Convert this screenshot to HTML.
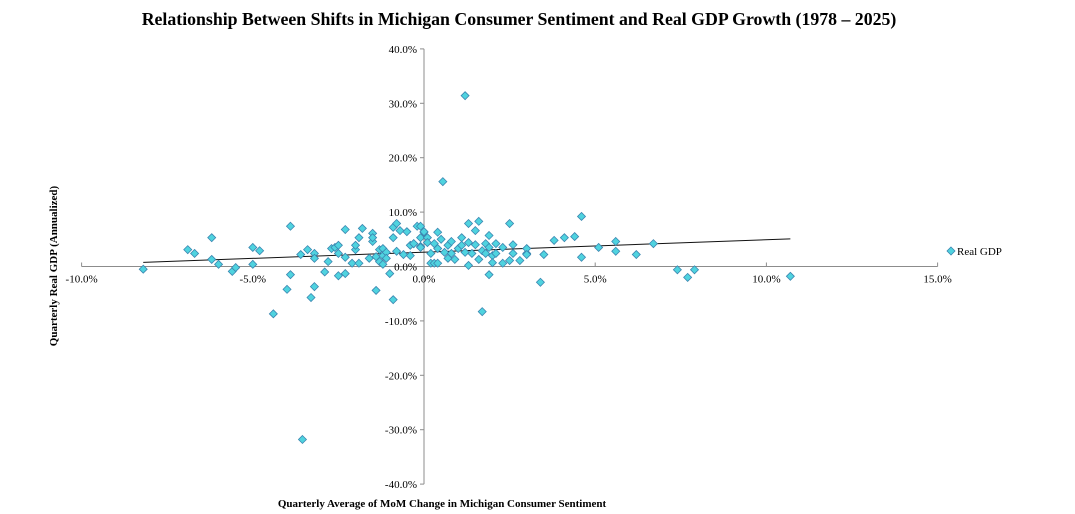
<!DOCTYPE html>
<html><head><meta charset="utf-8">
<style>
html,body{margin:0;padding:0;background:#fff;}
svg{display:block;font-family:"Liberation Serif",serif;}
</style></head>
<body>
<svg id="chart" width="1075" height="514" viewBox="0 0 1075 514">
<text x="519" y="25" text-anchor="middle" font-size="17.8" font-weight="bold">Relationship Between Shifts in Michigan Consumer Sentiment and Real GDP Growth (1978 – 2025)</text>
<text x="0" y="0" transform="translate(57,266) rotate(-90)" text-anchor="middle" font-size="11" font-weight="bold">Quarterly Real GDP (Annualized)</text>
<text x="442" y="507" text-anchor="middle" font-size="11" font-weight="bold">Quarterly  Average of MoM Change in Michigan Consumer Sentiment</text>
<g id="axes"></g>
<g id="trend"></g>
<g id="points"></g>
<g>
<path d="M951 247 L955 251 L951 255 L947 251 Z" fill="#4fd3df" stroke="#3b86b0" stroke-width="0.8"/>
<text x="957" y="255" font-size="11">Real GDP</text>
</g>
</svg>
<script>
const xTicks = [-10, -5, 0, 5, 10, 15];
const yTicks = [40, 30, 20, 10, 0, -10, -20, -30, -40];
const sentimentChange = [-8.2,-6.9,-6.7,-6.2,-6.2,-6.0,-5.6,-5.5,-5.0,-5.0,-4.8,-4.4,-3.9,-3.9,-4.0,-3.6,-3.4,-3.2,-3.2,-3.3,-3.2,-2.9,-2.8,-2.7,-2.6,-2.5,-2.5,-2.5,-2.3,-2.3,-2.3,-2.1,-2.0,-2.0,-1.9,-1.8,-1.9,-1.6,-1.5,-1.5,-1.5,-1.4,-1.4,-1.3,-1.2,-1.2,-1.3,-1.2,-1.1,-1.1,-1.0,-0.9,-0.9,-0.8,-0.9,-0.8,-0.7,-0.6,-0.5,-0.4,-0.4,-0.3,-0.2,-0.1,0.0,-0.1,
-0.1,0.0,0.1,-0.3,-0.1,0.1,0.4,0.2,0.3,0.4,0.2,0.3,0.4,0.5,0.6,0.7,0.7,0.8,0.8,0.9,1.0,1.1,1.1,1.2,1.3,1.3,1.3,1.4,1.5,1.5,1.6,1.6,1.7,1.8,1.8,1.9,1.9,1.9,2.0,2.0,2.1,2.1,1.7,2.3,2.3,2.5,2.5,2.6,2.6,2.8,3.0,3.0,3.0,3.4,3.5,3.8,4.1,4.4,4.6,4.6,5.1,5.6,5.6,6.2,6.7,
1.2,0.55,-3.55,7.4,7.7,7.9,10.7];
const realGdp = [-0.5,3.1,2.4,5.3,1.3,0.4,-0.9,-0.2,0.4,3.5,2.9,-8.7,7.4,-1.5,-4.2,2.2,3.1,2.4,-3.7,-5.7,1.5,-1.0,0.9,3.3,3.5,-1.7,2.4,3.9,-1.3,6.8,1.7,0.6,3.1,3.9,5.3,7.0,0.6,1.5,4.6,6.1,5.3,-4.4,1.8,3.1,3.3,2.0,0.9,0.4,2.6,1.5,-1.3,7.2,5.3,7.9,-6.1,2.8,6.6,2.2,6.4,3.9,2.0,4.2,7.4,5.3,6.3,3.7,
7.4,6.4,5.3,4.2,3.5,4.4,6.3,0.6,0.6,0.6,2.4,4.2,3.3,5.0,2.6,1.5,3.9,2.4,4.6,1.3,3.3,5.3,3.9,2.6,7.9,0.2,4.4,2.4,6.6,4.0,1.3,8.3,2.9,4.2,2.4,-1.5,5.7,3.5,2.0,0.7,4.2,2.4,-8.3,0.6,3.5,7.9,1.1,4.0,2.4,1.1,2.4,3.3,2.2,-2.9,2.2,4.8,5.3,5.5,9.2,1.7,3.5,4.6,2.8,2.2,4.2,
31.4,15.6,-31.8,-0.6,-2.0,-0.6,-1.8];

const X0=424, XS=34.24, Y0=266.5, YS=5.44;
const sx = v => X0 + v*XS;
const sy = v => Y0 - v*YS;
const NS='http://www.w3.org/2000/svg';
const axes=document.getElementById('axes');
function mk(tag, attrs, parent){const e=document.createElementNS(NS,tag);for(const k in attrs)e.setAttribute(k,attrs[k]);parent.appendChild(e);return e;}

const xl=mk('line',{x1:sx(-10),x2:sx(15),y1:Y0,y2:Y0,stroke:'#8c8c8c','stroke-width':1},axes);


const yl=mk('line',{x1:X0,x2:X0,y1:sy(40),y2:sy(-40),stroke:'#8c8c8c','stroke-width':1},axes);



xTicks.forEach(t=>{
  const tk=mk('line',{x1:sx(t),x2:sx(t),y1:Y0,y2:Y0-4,stroke:'#8c8c8c'},axes);
  
  
  const tx=mk('text',{x:sx(t),y:Y0+16,'text-anchor':'middle','font-size':11},axes);
  tx.textContent=t.toFixed(1)+'%';
  
  
});
yTicks.forEach(t=>{
  const tk=mk('line',{x1:X0-4,x2:X0,y1:sy(t),y2:sy(t),stroke:'#8c8c8c'},axes);
  
  
  const tx=mk('text',{x:X0-7,y:sy(t)+4,'text-anchor':'end','font-size':11},axes);
  tx.textContent=t.toFixed(1)+'%';
  
  
});

const n=sentimentChange.length;
let mx=0,my=0;for(let i=0;i<n;i++){mx+=sentimentChange[i];my+=realGdp[i];}mx/=n;my/=n;
let sxy=0,sxx=0;for(let i=0;i<n;i++){sxy+=(sentimentChange[i]-mx)*(realGdp[i]-my);sxx+=(sentimentChange[i]-mx)**2;}
const slope=sxy/sxx, icpt=my-slope*mx;
const xmin=Math.min(...sentimentChange), xmax=Math.max(...sentimentChange);
const tl=mk('line',{x1:sx(xmin),y1:sy(icpt+slope*xmin),x2:sx(xmax),y2:sy(icpt+slope*xmax),stroke:'#111','stroke-width':1},document.getElementById('trend'));



const pts=document.getElementById('points');
for(let i=0;i<n;i++){
  const cx=sx(sentimentChange[i]), cy=sy(realGdp[i]);
  const p=mk('path',{d:`M${cx} ${cy-4} L${cx+4} ${cy} L${cx} ${cy+4} L${cx-4} ${cy} Z`,fill:'#4fd3df',stroke:'#3b86b0','stroke-width':0.8},pts);
  
  
}
</script>
</body></html>
